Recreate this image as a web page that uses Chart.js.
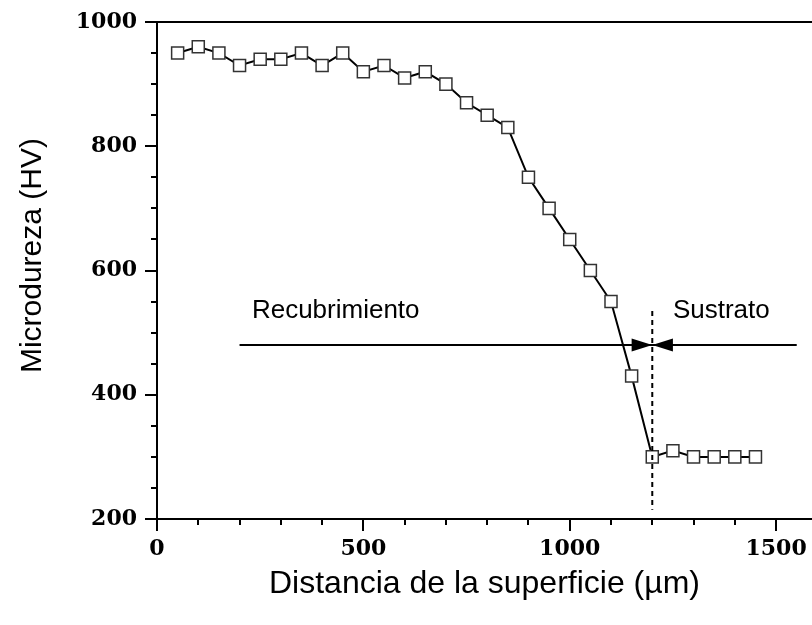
<!DOCTYPE html>
<html>
<head>
<meta charset="utf-8">
<script src="https://cdn.jsdelivr.net/npm/chart.js@4/dist/chart.umd.min.js"></script>
<style>
  html, body { margin: 0; padding: 0; background: #fff; }
</style>
</head>
<body>
<canvas id="myChart" width="812" height="625"></canvas>
<script>
// * data
const distances = [50, 100, 150, 200, 250, 300, 350, 400, 450, 500, 550, 600, 650, 700, 750,
  800, 850, 900, 950, 1000, 1050, 1100, 1150, 1200, 1250, 1300, 1350, 1400, 1450];
const hardness = [950, 960, 950, 930, 940, 940, 950, 930, 950, 920, 930, 910, 920, 900, 870,
  850, 830, 750, 700, 650, 600, 550, 430, 300, 310, 300, 300, 300, 300];

const xTickLabels = [0, 500, 1000, 1500];
const yTickLabels = [200, 400, 600, 800, 1000];

// interface between coating and substrate
const interfaceX = 1200;
const bracketY = 480;
const bracketFrom = 200;
const bracketTo = 1550;

// * axes, minor ticks and annotations drawn by hand
const frame = {
  id: "frame",
  afterDatasetsDraw(chart) {
    const { ctx, chartArea: a, scales } = chart;
    const x = scales.x, y = scales.y;
    ctx.save();
    ctx.strokeStyle = "#000";
    ctx.fillStyle = "#000";
    ctx.lineWidth = 2;
    ctx.lineCap = "butt";

    ctx.beginPath();
    ctx.moveTo(a.left, a.top);
    ctx.lineTo(chart.width, a.top);
    ctx.moveTo(a.left, a.top - 1);
    ctx.lineTo(a.left, a.bottom);
    ctx.moveTo(a.left, a.bottom);
    ctx.lineTo(chart.width, a.bottom);

    for (let v = 200; v <= 1000; v += 50) {
      const py = Math.round(y.getPixelForValue(v));
      const len = yTickLabels.includes(v) ? 12 : 6;
      ctx.moveTo(a.left - len, py);
      ctx.lineTo(a.left, py);
    }
    for (let v = 0; v <= x.max; v += 100) {
      const px = Math.round(x.getPixelForValue(v));
      const len = xTickLabels.includes(v) ? 12 : 6;
      ctx.moveTo(px, a.bottom);
      ctx.lineTo(px, a.bottom + len);
    }
    ctx.stroke();

    // horizontal bracket line
    const by = y.getPixelForValue(bracketY);
    const ix = x.getPixelForValue(interfaceX);
    ctx.beginPath();
    ctx.moveTo(x.getPixelForValue(bracketFrom), by);
    ctx.lineTo(x.getPixelForValue(bracketTo), by);
    ctx.stroke();

    // arrow heads pointing at the interface
    const headL = x.getPixelForValue(interfaceX - 50);
    const headR = x.getPixelForValue(interfaceX + 50);
    ctx.beginPath();
    ctx.moveTo(headL, by - 6.5);
    ctx.lineTo(ix, by);
    ctx.lineTo(headL, by + 6.5);
    ctx.closePath();
    ctx.moveTo(headR, by - 6.5);
    ctx.lineTo(ix, by);
    ctx.lineTo(headR, by + 6.5);
    ctx.closePath();
    ctx.fill();

    // dashed interface line
    ctx.setLineDash([5, 4]);
    ctx.beginPath();
    ctx.moveTo(ix, y.getPixelForValue(535));
    ctx.lineTo(ix, y.getPixelForValue(215));
    ctx.stroke();
    ctx.setLineDash([]);

    // labels
    ctx.font = "26px 'Liberation Sans', Arial, sans-serif";
    ctx.textBaseline = "alphabetic";
    ctx.textAlign = "left";
    ctx.fillText("Recubrimiento", x.getPixelForValue(230), y.getPixelForValue(524));
    ctx.fillText("Sustrato", x.getPixelForValue(1250), y.getPixelForValue(524));

    // y title, sits a bit above the middle of the axis
    ctx.font = "30px 'Liberation Sans', Arial, sans-serif";
    ctx.textAlign = "center";
    ctx.textBaseline = "middle";
    ctx.translate(33, y.getPixelForValue(624));
    ctx.rotate(-Math.PI / 2);
    ctx.fillText("Microdureza (HV)", 0, 0);
    ctx.restore();
  },
};

const data = {
  datasets: [
    {
      label: "Microdureza",
      data: distances.map((d, i) => ({ x: d, y: hardness[i] })),
      borderColor: "#000",
      borderWidth: 2,
      tension: 0,
      pointStyle: "rect",
      pointRadius: 8.5,
      pointBorderWidth: 1.5,
      pointBorderColor: "#333",
      pointBackgroundColor: "#fff",
    },
  ],
};

const tickFont = { family: "'DejaVu Serif', serif", weight: "bold", size: 22 };

let config = {
  type: "line",
  data: data,
  options: {
    responsive: false,
    animation: false,
    devicePixelRatio: 1,
    layout: { autoPadding: false, padding: { top: 22, left: 0, right: 0, bottom: 0 } },
    plugins: {
      legend: { display: false },
      tooltip: { enabled: false },
    },
    scales: {
      x: {
        type: "linear",
        min: 0,
        max: 1587,
        grid: { display: false, drawTicks: true, tickLength: 14 },
        border: { display: false },
        afterBuildTicks: (s) => { s.ticks = xTickLabels.map((v) => ({ value: v })); },
        ticks: {
          padding: 3,
          color: "#000",
          font: tickFont,
          autoSkip: false,
          maxRotation: 0,
          callback: (v) => String(v),
        },
        title: {
          display: true,
          text: "Distancia de la superficie (µm)",
          color: "#000",
          font: { family: "'Liberation Sans', Arial, sans-serif", size: 32 },
          padding: { top: 0, bottom: 22 },
        },
        afterFit: (s) => { s.height = 106; },
      },
      y: {
        type: "linear",
        min: 200,
        max: 1000,
        grid: { display: false, drawTicks: true, tickLength: 17 },
        border: { display: false },
        afterBuildTicks: (s) => { s.ticks = yTickLabels.map((v) => ({ value: v })); },
        ticks: {
          padding: 3,
          color: "#000",
          font: tickFont,
          autoSkip: false,
          callback: (v) => String(v),
        },
        title: { display: false },
        afterFit: (s) => { s.width = 157; },
      },
    },
  },
  plugins: [frame],
};

let chart = new Chart("myChart", config);
</script>
</body>
</html>
